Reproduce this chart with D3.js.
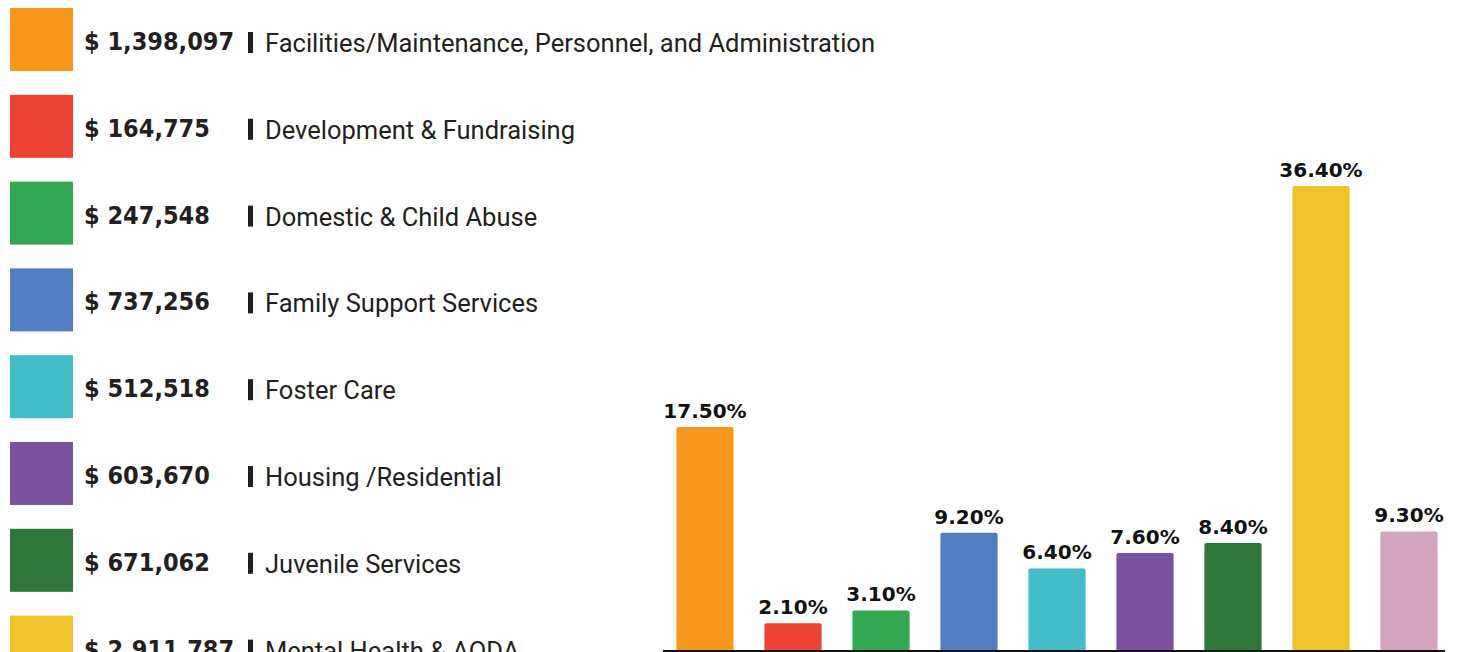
<!DOCTYPE html>
<html>
<head>
<meta charset="utf-8">
<script src="https://cdn.jsdelivr.net/npm/d3@7"></script>
<style>
  html, body { margin: 0; padding: 0; background: #fff; overflow: hidden; }
</style>
</head>
<body>
<svg id="chart"></svg>
<script>
// legend rows (the 9th row falls below the visible area)
const legendAmounts = ["$ 1,398,097", "$ 164,775", "$ 247,548", "$ 737,256",
  "$ 512,518", "$ 603,670", "$ 671,062", "$ 2,911,787"];
const legendLabels = ["Facilities/Maintenance, Personnel, and Administration",
  "Development & Fundraising", "Domestic & Child Abuse", "Family Support Services",
  "Foster Care", "Housing /Residential", "Juvenile Services", "Mental Health & AODA"];

// bars
const barKeys = ["facilities", "development", "abuse", "family", "foster",
  "housing", "juvenile", "mental", "other"];
const barPercents = [17.5, 2.1, 3.1, 9.2, 6.4, 7.6, 8.4, 36.4, 9.3];
const barColors = ["#F7971E", "#EC4334", "#32A852", "#527DC0", "#43BEC6",
  "#7A519F", "#2E7639", "#F0C22C", "#D3A5BE"];

const width = 1458, height = 652;

const svg = d3.select("#chart")
  .attr("width", width)
  .attr("height", height)
  .style("font-family", "'DejaVu Sans', sans-serif");

// LEGEND
const rowY = d3.scaleLinear().domain([0, 1]).range([8, 94.8]);
const legend = svg.append("g");

const rows = legend.selectAll("g.row")
  .data(legendLabels)
  .enter()
  .append("g")
  .attr("class", "row")
  .attr("transform", (d, i) => `translate(0, ${rowY(i)})`);

rows.append("rect")
  .attr("x", 10)
  .attr("width", 63)
  .attr("height", 63)
  .attr("fill", (d, i) => barColors[i]);

rows.append("text")
  .attr("x", 84)
  .attr("y", 42)
  .attr("fill", "#231f20")
  .style("font-family", "'DejaVu Sans Condensed', 'DejaVu Sans', sans-serif")
  .style("font-stretch", "condensed")
  .style("font-weight", "bold")
  .style("font-size", "25px")
  .text((d, i) => legendAmounts[i]);

// separator bar
rows.append("rect")
  .attr("x", 248)
  .attr("y", 24)
  .attr("width", 5)
  .attr("height", 21)
  .attr("fill", "#231f20");

rows.append("text")
  .attr("x", 265)
  .attr("y", 44)
  .attr("fill", "#231f20")
  .style("font-family", "Roboto, 'Liberation Sans', sans-serif")
  .style("font-size", "25.5px")
  .text(d => d);

// BAR CHART
const x = d3.scaleBand()
  .domain(barKeys)
  .range([661, 1453])
  .paddingInner(0.35)
  .paddingOuter(0.175);

const y = d3.scaleLinear()
  .domain([0, 36.4])
  .range([650, 186]);

const bars = svg.append("g");

bars.selectAll("rect")
  .data(barPercents)
  .enter()
  .append("rect")
  .attr("x", (d, i) => x(barKeys[i]))
  .attr("y", d => y(d))
  .attr("width", x.bandwidth())
  .attr("height", d => y(0) - y(d) + 2)
  .attr("rx", 2)
  .attr("fill", (d, i) => barColors[i]);

bars.selectAll("text")
  .data(barPercents)
  .enter()
  .append("text")
  .attr("x", (d, i) => x(barKeys[i]) + x.bandwidth() / 2)
  .attr("y", d => y(d) - 9)
  .attr("text-anchor", "middle")
  .attr("fill", "#111")
  .style("font-weight", "bold")
  .style("font-size", "20px")
  .text(d => d.toFixed(2) + "%");

// baseline
svg.append("line")
  .attr("x1", x.range()[0] + 2)
  .attr("x2", x.range()[1] - 8)
  .attr("y1", y(0) + 1)
  .attr("y2", y(0) + 1)
  .attr("stroke", "#111")
  .attr("stroke-width", 2);
</script>
</body>
</html>
